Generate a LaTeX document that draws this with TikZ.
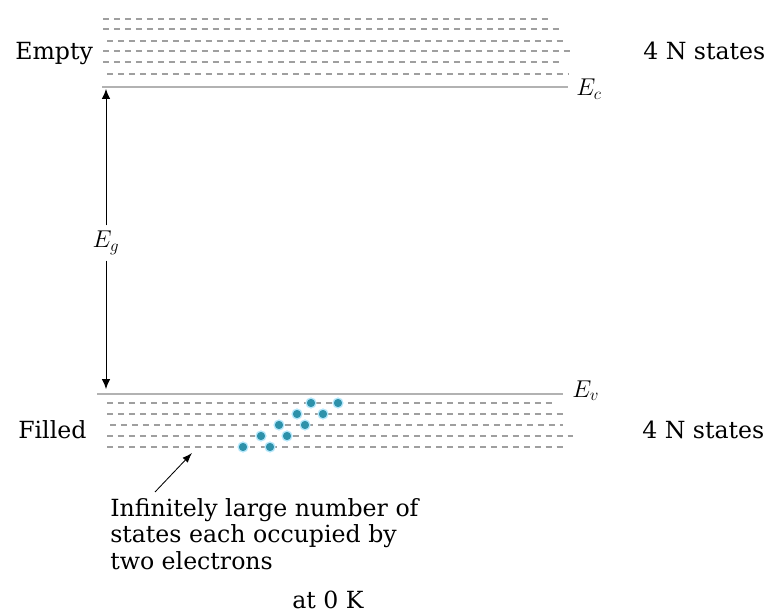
\documentclass[tikz,border=0pt]{standalone}
\usepackage{fontspec}
\setmainfont{DejaVu Serif}
\usetikzlibrary{arrows.meta}
\definecolor{elecblue}{RGB}{45,145,170}
\begin{document}
\begin{tikzpicture}[x=0.025cm, y=-0.025cm, font=\fontsize{16.8}{19}\selectfont,
  lvl/.style={draw=gray!75, line width=0.9pt, dash pattern=on 4.2pt off 3.6pt},
  edgeline/.style={draw=gray!60, line width=1.6pt},
  lbl/.style={anchor=base west, inner sep=0pt},
  elec/.style={circle, fill=elecblue, draw=cyan!30, line width=0.9pt, inner sep=0pt, minimum size=7pt}]
\useasboundingbox (0,0) rectangle (770,616);
% conduction band (empty)
\foreach \y/\xa/\xb in {19/103/550, 29/103/562, 41/107/565, 51/103/570, 62/103/563, 74/107/568}
  \draw[lvl] (\xa,\y) -- (\xb,\y);
\draw[edgeline] (102,87) -- (568,87);
\node[lbl] (empty) at (15,60) {Empty};
\node[lbl] (ncb) at (643,60) {4 N states};
\node[lbl] (ec) at (576,96) {$E_c$};
% valence band (filled)
\draw[edgeline] (97,394) -- (563,394);
\foreach \y/\xa/\xb in {403/107/553, 414/107/565, 425/110/563, 436/107/573, 447/107/565}
  \draw[lvl] (\xa,\y) -- (\xb,\y);
\node[lbl] (filled) at (18,438) {Filled};
\node[lbl] (nvb) at (642,438) {4 N states};
\node[lbl] (ev) at (572,397) {$E_v$};
% electrons
\foreach \x/\y [count=\i] in {311/403, 338/403, 297/414, 323/414, 279/425, 305/425, 261/436, 287/436, 243/447, 270/447}
  \node[elec] (el\i) at (\x,\y) {};
% gap
\coordinate (gtop) at (106,89);
\coordinate (gbot) at (106,389);
\node[inner sep=4pt] (eg) at (106,243) {$E_g$};
\draw[-{Latex[length=7pt,width=6pt]}, line width=0.7pt] (eg) -- (gtop);
\draw[-{Latex[length=7pt,width=6pt]}, line width=0.7pt] (eg) -- (gbot);
% note
\node[anchor=north west, inner sep=0pt, align=left] (note) at (110,498)
  {Infinitely large number of\\states each occupied by\\two electrons};
\coordinate (ptrfoot) at (155,492);
\coordinate (ptr) at (192,453);
\draw[-{Latex[length=7pt,width=5pt]}, line width=0.6pt] (ptrfoot) -- (ptr);
\node[lbl] (temp) at (292,608) {at 0 K};
\end{tikzpicture}
\end{document}
